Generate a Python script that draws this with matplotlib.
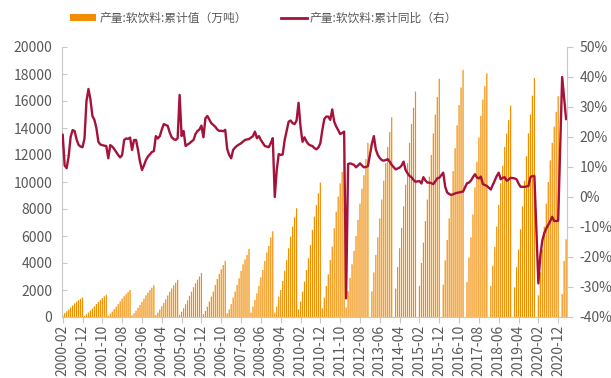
import numpy as np
import pandas as pd
import matplotlib
matplotlib.use('Agg')
import matplotlib.pyplot as plt
from matplotlib.patches import Patch
from matplotlib.lines import Line2D
from matplotlib.ticker import FuncFormatter, MultipleLocator

plt.rcParams['font.family'] = ['Noto Sans CJK SC', 'DejaVu Sans']

# 产量:软饮料:累计值（万吨），2000-02 起按月，一行一年（1月缺失记为 None）
cum_output = [
    175, 290, 420, 555, 700, 850, 1000, 1130, 1240, 1340, 1450,
    80, 200, 330, 480, 630, 790, 960, 1120, 1270, 1400, 1530, 1650,
    100, 240, 400, 580, 760, 960, 1160, 1360, 1540, 1700, 1850, 2000,
    120, 280, 470, 680, 890, 1120, 1360, 1600, 1810, 2000, 2170, 2350,
    140, 330, 550, 800, 1040, 1310, 1590, 1870, 2120, 2340, 2540, 2750,
    170, 390, 650, 940, 1230, 1560, 1880, 2210, 2500, 2760, 3000, 3250,
    200, 445, 760, 1140, 1510, 1880, 2370, 2810, 3190, 3530, 3850, 4150,
    270, 570, 960, 1430, 1880, 2370, 2870, 3410, 3900, 4270, 4600, 5050,
    320, 770, 1260, 1750, 2300, 2940, 3480, 4150, 4770, 5260, 5900, 6350,
    320, 770, 1500, 2000, 2670, 3430, 4220, 5090, 5950, 6690, 7380, 8050,
    570, 1140, 1880, 2620, 3480, 4350, 5340, 6450, 7430, 8300, 9160, 9950,
    640, 1430, 2300, 3160, 4220, 5210, 6570, 7800, 8920, 9900, 10750, 11700,
    700, 1900, 2900, 3900, 4900, 6000, 7200, 8400, 9500, 10500, 11700, 12900,
    None, 1900, 3300, 4600, 5900, 7300, 8700, 10100, 11400, 12600, 13700, 14800,
    None, 2100, 3700, 5100, 6600, 8200, 9800, 11400, 12900, 14300, 15500, 16700,
    None, 2300, 4000, 5500, 7100, 8700, 10400, 12000, 13600, 15000, 16300, 17650,
    None, 2400, 4200, 5700, 7300, 9000, 10800, 12500, 14200, 15700, 17000, 18300,
    None, 2600, 4400, 5900, 7600, 9600, 11500, 13300, 14900, 16100, 17100, 18050,
    None, 2300, 3800, 5200, 6700, 8300, 9900, 11200, 12600, 13600, 14600, 15650,
    None, 2200, 3700, 5000, 6500, 8200, 10100, 11900, 13600, 15000, 16400, 17700,
    None, 1600, 3300, 5000, 6700, 8400, 10000, 11600, 12900, 14100, 15200, 16350,
    None, 1700, 4150, 5750,
]

# 产量:软饮料:累计同比（%）
cum_yoy = [
    20.7, 10.5, 9.6, 13.5, 20.0, 22.3, 22.0, 19.2, 17.4, 16.8, 16.6,
    19.5, 32.0, 36.0, 32.5, 27.0, 25.7, 23.0, 18.4, 17.5, 17.3, 17.1, 17.0,
    12.9, 17.3, 16.8, 16.0, 15.0, 14.0, 13.2, 14.0, 19.0, 19.5, 19.4, 19.8,
    15.7, 19.0, 19.0, 15.7, 11.8, 9.0, 10.5, 12.3, 13.5, 14.2, 15.0, 15.3,
    20.3, 19.5, 20.3, 22.5, 24.3, 24.0, 23.7, 21.5, 19.9, 19.3, 19.0, 19.6,
    34.0, 20.3, 22.0, 17.0, 17.5, 17.9, 18.5, 19.0, 21.0, 22.0, 22.5, 23.8,
    19.9, 26.2, 27.0, 25.8, 24.6, 24.0, 23.4, 22.5, 22.0, 22.1, 21.9, 22.4,
    16.0, 14.0, 12.9, 15.7, 16.5, 17.1, 17.5, 17.9, 18.5, 19.0, 19.2, 19.3,
    19.8, 20.3, 21.8, 19.6, 20.3, 19.0, 18.0, 17.0, 16.8, 16.6, 18.0, 19.6,
    0.0, 9.0, 14.3, 14.0, 14.2, 19.0, 22.0, 25.1, 25.5, 24.6, 24.3, 25.5,
    31.4, 23.4, 18.4, 19.9, 18.5, 17.6, 17.2, 17.0, 16.3, 15.9, 16.5, 17.9,
    22.3, 26.0, 26.8, 26.8, 25.7, 29.2, 25.1, 23.5, 22.3, 21.0, 21.3, 21.8,
    -33.8, 11.0, 11.2, 11.0, 10.7, 9.9, 10.5, 11.2, 10.5, 9.9, 10.0, 10.3,
    None, 17.7, 20.3, 15.8, 14.0, 13.0, 12.3, 12.1, 12.3, 12.6, 11.8, 10.7,
    None, 9.2, 9.5, 9.8, 10.5, 11.8, 9.0, 7.9, 7.0, 6.6, 5.7, 5.1,
    None, 5.3, 4.5, 6.6, 5.5, 4.8, 4.8, 4.6, 4.3, 5.2, 6.2, 6.4,
    None, 8.1, 3.4, 1.5, 1.0, 0.7, 0.9, 1.2, 1.4, 1.5, 1.7, 1.8,
    None, 4.6, 4.8, 5.5, 6.6, 7.6, 6.5, 6.2, 6.8, 4.3, 4.0, 3.7,
    None, 2.5, 4.0, 5.5, 7.0, 8.1, 5.9, 6.4, 6.6, 5.4, 5.8, 6.4,
    None, 6.2, 5.9, 4.5, 3.4, 3.4, 3.4, 3.5, 3.7, 6.6, 7.0, 7.0,
    None, -28.8, -19.5, -14.5, -12.0, -10.5, -9.3, -8.0, -6.6, -8.0, -8.0, -7.9,
    None, 40.0, 33.0, 26.0,
]

months = pd.date_range('2000-02', periods=len(cum_output), freq='MS').strftime('%Y-%m')

label_bar = '产量:软饮料:累计值（万吨）'
label_line = '产量:软饮料:累计同比（右）'

orange = '#F28C00'
red = '#A5123A'
grey_txt = '#595959'
grey_axis = '#C8C8C8'

x = np.arange(len(months))
out = np.array(cum_output, dtype=float)
yoy = np.array(cum_yoy, dtype=float)

fig = plt.figure(figsize=(6.11, 3.78), dpi=100)
ax = fig.add_axes([62 / 611, 1 - 317 / 378, 505 / 611, 270 / 378])

# 柱子约 1 像素宽，关掉对齐像素，避免部分柱子被吃掉
ax.bar(x, out, width=0.6, color=orange, linewidth=0, snap=False)
ax.set_xlim(-0.35, 254.45)
ax.set_ylim(0, 20000)
ax.yaxis.set_major_locator(MultipleLocator(2000))

ax.set_xticks(x[::10])
ax.set_xticklabels(months[::10], rotation=90)

ax2 = ax.twinx()
ok = ~np.isnan(yoy)
ax2.plot(x[ok], yoy[ok], color=red, lw=1.7, solid_joinstyle='round')
ax2.set_ylim(-40, 50)
ax2.yaxis.set_major_locator(MultipleLocator(10))
ax2.yaxis.set_major_formatter(FuncFormatter(lambda v, p: f'{v:.0f}%'))

for a in (ax, ax2):
    a.spines['top'].set_visible(False)
ax.spines['right'].set_visible(False)
ax2.spines['left'].set_visible(False)
ax2.spines['bottom'].set_visible(False)
ax.spines['left'].set_color(grey_axis)
ax.spines['bottom'].set_color(grey_axis)
ax2.spines['right'].set_color(grey_axis)

ax.tick_params(axis='x', direction='out', length=4, color=grey_axis,
               labelsize=10, labelcolor=grey_txt, pad=1.5)
ax.tick_params(axis='y', direction='in', length=3.5, color=grey_axis,
               labelsize=10, labelcolor=grey_txt, pad=7)
ax2.tick_params(axis='y', direction='out', length=4, color=grey_axis,
                labelsize=10, labelcolor=grey_txt, pad=5)

handles = [Patch(facecolor=orange, edgecolor='none'),
           Line2D([0], [0], color=red, lw=2)]
fig.legend(handles, [label_bar, label_line], loc='center',
           bbox_to_anchor=(264 / 611, 1 - 18 / 378), ncol=2, frameon=False,
           fontsize=8.5, labelcolor=grey_txt, handlelength=2.2,
           handleheight=0.5, handletextpad=0.3, columnspacing=2.8)

fig.savefig('out.png', dpi=100)
